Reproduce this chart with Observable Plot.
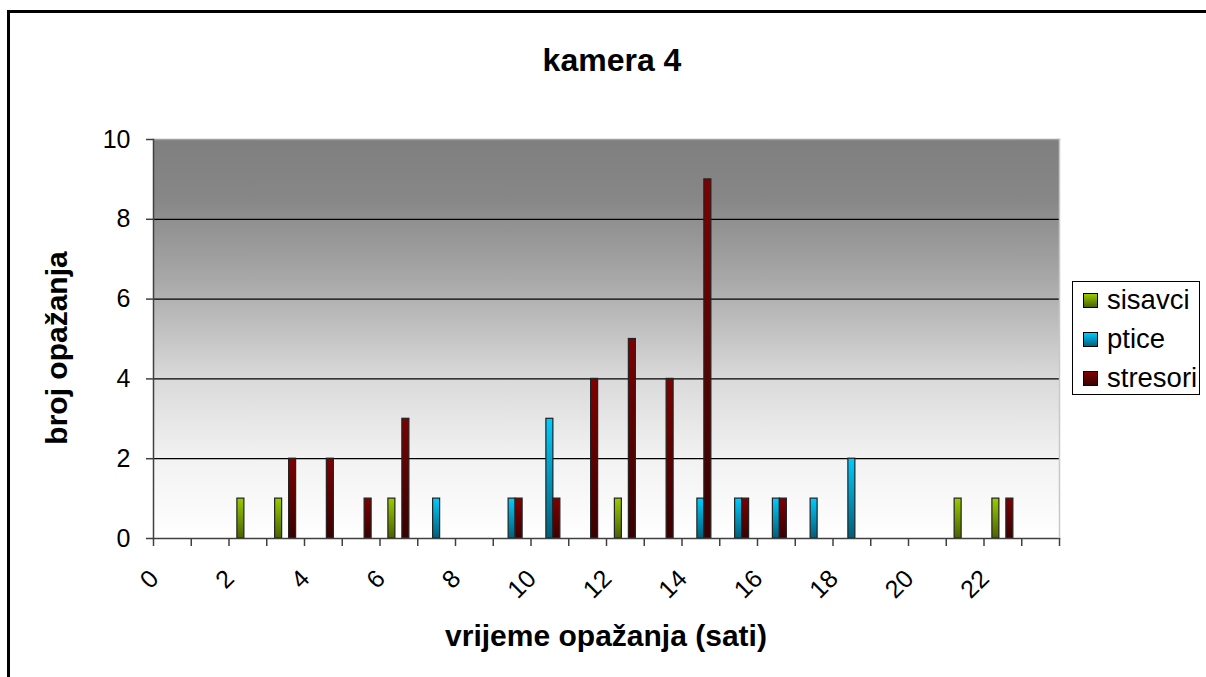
<!DOCTYPE html>
<html>
<head>
<meta charset="utf-8">
<script src="https://cdn.jsdelivr.net/npm/d3@7"></script>
<script src="https://cdn.jsdelivr.net/npm/@observablehq/plot@0.6"></script>
<style>
  html, body { margin: 0; padding: 0; background: #fff; }
  #wrap { position: relative; width: 1206px; height: 677px; overflow: hidden; font-family: "Liberation Sans", Arial, sans-serif; }
  #border { position: absolute; left: 7px; top: 10px; width: 1300px; height: 800px; border-left: 3px solid #000; border-top: 3px solid #000; }
  #chart { position: absolute; left: 0; top: 0; }
  .title { position: absolute; font-weight: bold; color: #000; white-space: nowrap; }
  #legend { position: absolute; left: 1072px; top: 281px; width: 126px; height: 112px; border: 1px solid #000; background: #fff; }
  .item { position: absolute; left: 10px; font-size: 27.5px; line-height: 30px; white-space: nowrap; }
  .sw { display: inline-block; width: 13px; height: 13px; border: 1px solid #000; margin-right: 9px; vertical-align: 1px; }
</style>
</head>
<body>
<div id="wrap">
  <div id="border"></div>
  <div id="chart"></div>
  <div class="title" style="left:0;width:1224px;text-align:center;top:42px;font-size:32px;">kamera 4</div>
  <div class="title" style="left:0;width:1212px;text-align:center;top:619px;font-size:30px;">vrijeme opažanja (sati)</div>
  <div class="title" style="left:57px;top:348px;font-size:30px;transform:translate(-50%,-50%) rotate(-90deg);">broj opažanja</div>
  <div id="legend"></div>
</div>
<script>
const hours = d3.range(24);
const seriesNames = ["sisavci", "ptice", "stresori"];
const sisavci  = [0,0,1,1,0,0,1,0,0,0,0,0,1,0,0,0,0,0,0,0,0,1,1,0];
const ptice    = [0,0,0,0,0,0,0,1,0,1,3,0,0,0,1,1,1,1,2,0,0,0,0,0];
const stresori = [0,0,0,2,2,1,3,0,0,1,1,4,5,4,9,1,1,0,0,0,0,0,1,0];
const yTicks = [0, 2, 4, 6, 8, 10];
const xTickLabels = [0, 2, 4, 6, 8, 10, 12, 14, 16, 18, 20, 22];
const seriesTop = ["#99cc00", "#00ccff", "#800000"];
const seriesBottom = ["#4a6300", "#005f7a", "#3a0000"];

const values = [sisavci, ptice, stresori];
const rows = seriesNames.map((s, i) => hours.map(h => ({hour: h, series: s, value: values[i][h]})).filter(d => d.value > 0));

const marginLeft = 153, marginRight = 147, width = 1206;
const bw = (width - marginLeft - marginRight) / hours.length;
// clustered sub-band within each hour band
const sub = d3.scaleBand(seriesNames, [0, bw]).paddingInner(0).paddingOuter(1.2);

const chart = Plot.plot({
  width,
  height: 677,
  marginTop: 139,
  marginBottom: 139,
  marginLeft,
  marginRight,
  x: {type: "band", domain: hours, padding: 0, round: false, axis: null},
  y: {domain: [0, 10], axis: null},
  style: {fontFamily: "'Liberation Sans', Arial, sans-serif", background: "transparent", color: "#000"},
  marks: [
    Plot.frame({fill: "url(#bggrad)", stroke: null}),
    Plot.gridY(yTicks.slice(1, -1), {stroke: "#000", strokeOpacity: 1, strokeWidth: 1.2}),
    Plot.frame({anchor: "top", stroke: "#a0a0a0", strokeWidth: 1.5}),
    ...rows.map((r, i) => Plot.barY(r, {
      x: "hour", y: "value", fill: `url(#g${i})`, stroke: "#222", strokeWidth: 1.2,
      insetLeft: sub(seriesNames[i]), insetRight: bw - sub(seriesNames[i]) - sub.bandwidth()
    })),
    Plot.frame({anchor: "bottom", stroke: "#404040", strokeWidth: 1.5}),
    Plot.frame({anchor: "left", stroke: "#404040", strokeWidth: 1.5}),
    Plot.frame({anchor: "right", stroke: "#c8c8c8", strokeWidth: 1.5}),
    Plot.axisY({ticks: yTicks, tickSize: 7, tickPadding: 16, fontSize: 25, stroke: "#404040", strokeWidth: 1.5, label: null}),
    Plot.axisX({anchor: "bottom", ticks: hours, tickSize: 8, tickFormat: () => "", dx: -bw / 2, stroke: "#404040", strokeWidth: 1.5, label: null}),
    Plot.axisX({anchor: "bottom", ticks: [hours[hours.length - 1]], tickSize: 8, tickFormat: () => "", dx: bw / 2, stroke: "#404040", strokeWidth: 1.5, label: null}),
    Plot.axisX({anchor: "bottom", ticks: xTickLabels, tickSize: 0, tickRotate: -45, tickPadding: 36, dx: -18, fontSize: 25, label: null})
  ]
});

// gradients
const svg = d3.select(chart.tagName.toLowerCase() === "svg" ? chart : chart.querySelector("svg"));
const defs = svg.insert("defs", ":first-child");
const bg = defs.append("linearGradient").attr("id", "bggrad").attr("x1", 0).attr("y1", 0).attr("x2", 0).attr("y2", 1);
[[0, "#7f7f7f"], [0.15, "#878787"], [0.35, "#a8a8a8"], [0.6, "#dadada"], [0.8, "#f2f2f2"], [1, "#ffffff"]]
  .forEach(([o, c]) => bg.append("stop").attr("offset", o).attr("stop-color", c));
seriesNames.forEach((s, i) => {
  const g = defs.append("linearGradient").attr("id", "g" + i).attr("x1", 0).attr("y1", 0).attr("x2", 0).attr("y2", 1);
  g.append("stop").attr("offset", 0).attr("stop-color", seriesTop[i]);
  g.append("stop").attr("offset", 1).attr("stop-color", seriesBottom[i]);
});
document.getElementById("chart").appendChild(chart);

// legend
const legend = d3.select("#legend");
seriesNames.forEach((s, i) => {
  const it = legend.append("div").attr("class", "item").style("top", (3 + i * 39) + "px");
  it.append("span").attr("class", "sw").style("background", `linear-gradient(${seriesTop[i]}, ${seriesBottom[i]})`);
  it.append("span").text(s);
});
</script>
</body>
</html>
